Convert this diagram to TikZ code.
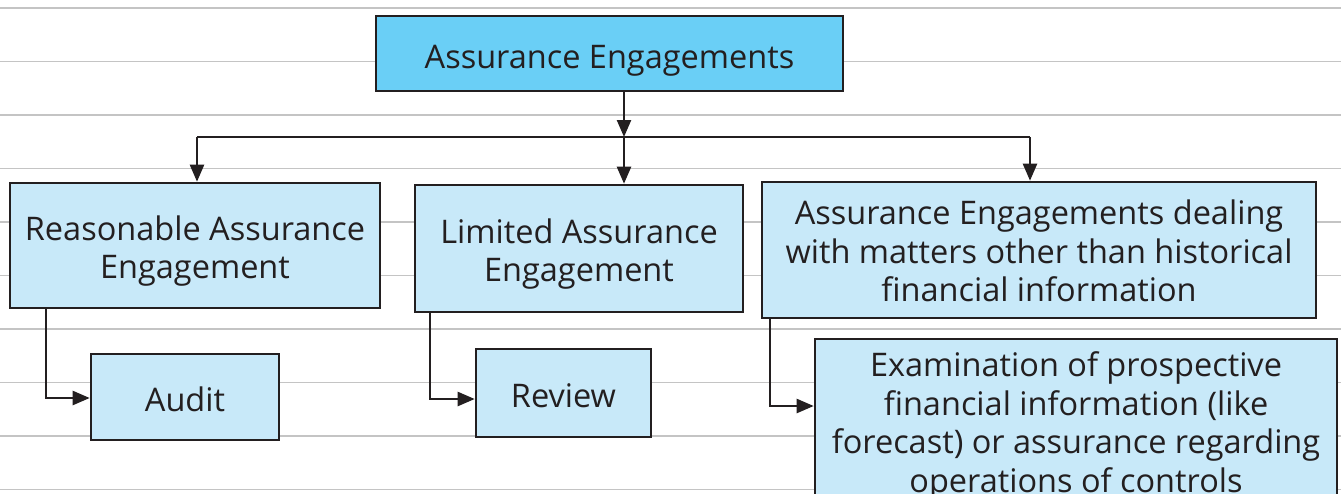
\documentclass[tikz,border=0pt]{standalone}
\usepackage{fontspec}
\setmainfont{Open Sans}
\usetikzlibrary{arrows.meta,calc}
\definecolor{topfill}{HTML}{6ACFF6}
\definecolor{boxfill}{HTML}{C8E9F9}
\definecolor{edge}{HTML}{231F20}
\definecolor{rule}{HTML}{C4C4C4}
\newcommand{\boxtxt}[2][7pt]{\raisebox{-#1}[\height][\depth]{\begin{tabular}{@{}c@{}}#2\end{tabular}}}
\tikzset{
  box/.style={draw=edge, line width=2.6pt, fill=boxfill, inner sep=0pt,
    font=\fontsize{32.5}{38.5}\selectfont, text=edge},
  conn/.style={draw=edge, line width=2.4pt, -{Triangle[length=17pt,width=14pt]}},
  plain/.style={draw=edge, line width=2.4pt},
  ruleline/.style={draw=rule, line width=1.6pt}
}
\begin{document}
\begin{tikzpicture}[x=1pt,y=-1pt]
\useasboundingbox (0,0) rectangle (1341,493);
\clip (0,0) rectangle (1341,493);
\fill[white] (0,0) rectangle (1341,493);
\foreach \yy in {8,61.5,115,168.5,222,275.5,329,382.5,436,489.5}
  \draw[ruleline] (0,\yy) -- (1341,\yy);

\node[box, fill=topfill, minimum width=467pt, minimum height=75pt] (top) at (609.5,53.5) {\boxtxt[7.5pt]{Assurance Engagements}};
\node[box, minimum width=370pt, minimum height=125pt] (reas) at (195,245.5) {\boxtxt[6.5pt]{Reasonable Assurance\\Engagement}};
\node[box, minimum width=328pt, minimum height=127pt] (lim) at (579,248.5) {\boxtxt[6.5pt]{Limited Assurance\\Engagement}};
\node[box, minimum width=554pt, minimum height=136pt] (oth) at (1039,250) {\boxtxt[5.5pt]{Assurance Engagements dealing\\with matters other than historical\\financial information}};
\node[box, minimum width=188pt, minimum height=86pt] (audit) at (185,397) {\boxtxt[7pt]{Audit}};
\node[box, minimum width=175pt, minimum height=88pt] (review) at (563.5,393) {\boxtxt[7pt]{Review}};
\node[box, minimum width=522pt, minimum height=172pt] (exam) at (1076,425) {\boxtxt[2pt]{Examination of prospective\\financial information (like\\forecast) or assurance regarding\\operations of controls}};

\coordinate (jc) at (624,137);
\coordinate (jl) at (197,137);
\coordinate (jr) at (1030,137);
\draw[conn] (top.south -| jc) -- (jc);
\draw[plain] (jl) -- (jr);
\draw[conn] (jl) -- (jl |- reas.north);
\draw[conn] (jc) -- (jc |- lim.north);
\draw[conn] (jr) -- (jr |- oth.north);

\coordinate (ra) at (46,398);
\coordinate (lr) at (430,399);
\coordinate (oe) at (770,406);
\draw[conn] (reas.south -| ra) |- (audit.west |- ra);
\draw[conn] (lim.south -| lr) |- (review.west |- lr);
\draw[conn] (oth.south -| oe) |- (exam.west |- oe);
\end{tikzpicture}
\end{document}
